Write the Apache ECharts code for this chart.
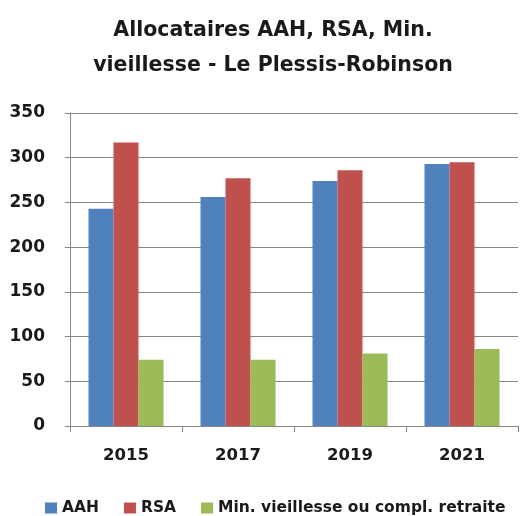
<!DOCTYPE html>
<html>
<head>
<meta charset="utf-8">
<script src="https://cdn.jsdelivr.net/npm/echarts@6/dist/echarts.min.js"></script>
<style>html,body{margin:0;padding:0;background:#fff}#c{width:520px;height:516px}</style>
</head>
<body>
<div id="c"></div>
<script>
const categories = ['2015', '2017', '2019', '2021'];
const aah = [243, 256, 274, 293];
const rsa = [317, 277, 286, 295];
const minVieillesse = [74, 74, 81, 86];
const seriesNames = ['AAH', 'RSA', 'Min. vieillesse ou compl. retraite'];
const yTicks = { min: 0, max: 350, interval: 50 };

const chart = echarts.init(document.getElementById('c'), null, { renderer: 'canvas' });
const font = 'DejaVu Sans';
chart.setOption({
  animation: false,
  title: {
    text: 'Allocataires AAH, RSA, Min.\nvieillesse - Le Plessis-Robinson',
    left: 268, top: 8, textAlign: 'center',
    textStyle: { fontFamily: font, fontWeight: 'bold', fontSize: 20.5, lineHeight: 35, color: '#1a1a1a' }
  },
  grid: { left: 70, right: 2, top: 113, bottom: 90 },
  legend: {
    left: 45, top: 500, width: 475, padding: 0, itemWidth: 12, itemHeight: 11, itemGap: 25,
    icon: 'rect',
    textStyle: { fontFamily: font, fontWeight: 'bold', fontSize: 15.5, color: '#1a1a1a' },
    data: seriesNames
  },
  xAxis: {
    type: 'category', data: categories,
    axisLine: { lineStyle: { color: '#868686', width: 1 } },
    axisTick: { show: true, length: 6, lineStyle: { color: '#868686' } },
    axisLabel: { fontFamily: font, fontWeight: 'bold', fontSize: 16.5, color: '#1a1a1a', margin: 21 }
  },
  yAxis: {
    type: 'value', min: yTicks.min, max: yTicks.max, interval: yTicks.interval,
    axisLine: { show: true, lineStyle: { color: '#868686' } },
    axisTick: { show: true, length: 5, lineStyle: { color: '#868686' } },
    splitLine: { lineStyle: { color: '#868686', width: 1 } },
    axisLabel: { fontFamily: font, fontWeight: 'bold', fontSize: 17, color: '#1a1a1a', margin: 25 }
  },
  series: [
    { name: seriesNames[0], type: 'bar', data: aah, barWidth: 25, barGap: '0%', itemStyle: { color: '#4F81BD' } },
    { name: seriesNames[1], type: 'bar', data: rsa, barWidth: 25, barGap: '0%', itemStyle: { color: '#C0504D' } },
    { name: seriesNames[2], type: 'bar', data: minVieillesse, barWidth: 25, barGap: '0%', itemStyle: { color: '#9BBB59' } }
  ]
});
</script>
</body>
</html>
